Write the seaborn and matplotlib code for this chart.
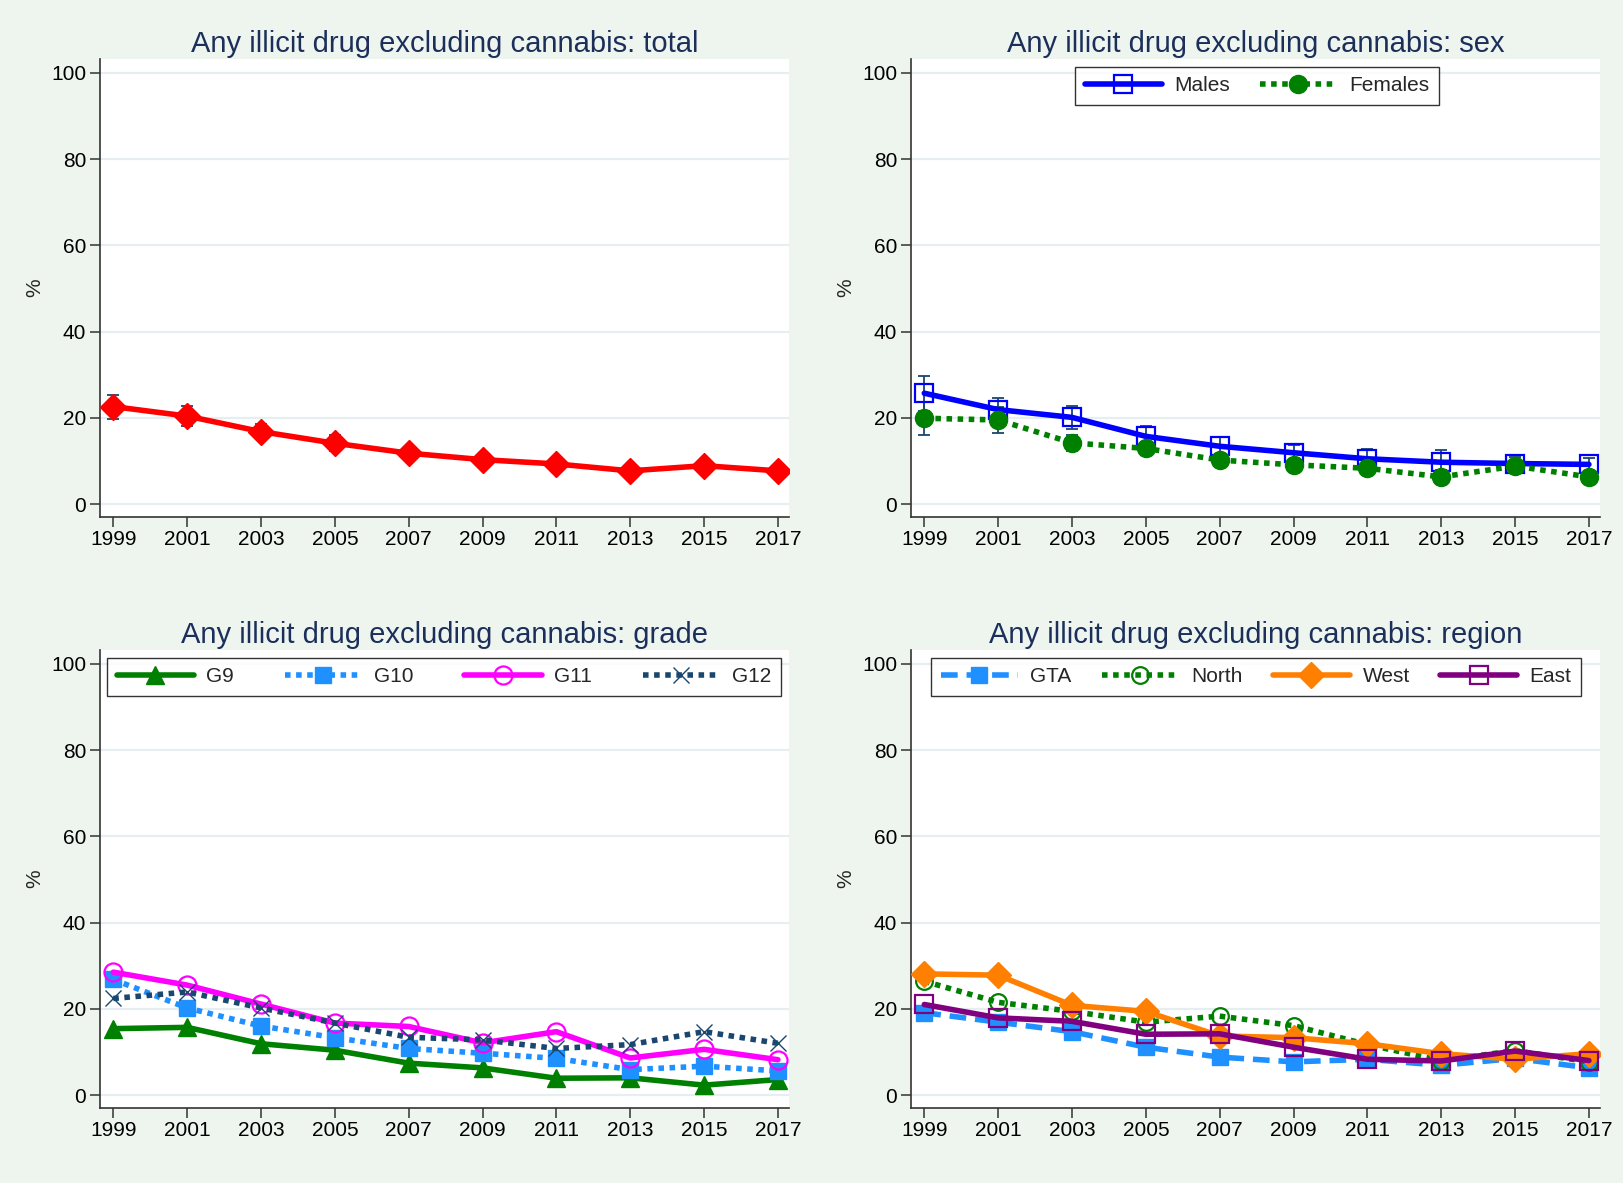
import numpy as np
import pandas as pd
import matplotlib
matplotlib.use("Agg")
import matplotlib.pyplot as plt
import seaborn as sns

# data
years = [1999, 2001, 2003, 2005, 2007, 2009, 2011, 2013, 2015, 2017]

total = [22.6, 20.4, 16.8, 14.1, 11.8, 10.3, 9.3, 7.7, 8.9, 7.7]
total_ci = [2.8, 2.3, 1.8, 1.8, 1.5, 1.2, 1.1, 1.1, 1.0, 0.9]

males = [25.7, 21.9, 20.1, 15.7, 13.4, 11.9, 10.5, 9.7, 9.4, 9.2]
males_ci = [4.1, 2.8, 2.7, 2.4, 2.1, 1.9, 2.2, 2.8, 1.5, 1.5]
females = [19.9, 19.5, 14.2, 12.9, 10.2, 9.1, 8.3, 6.3, 8.8, 6.3]
females_ci = [3.8, 3.0, 1.9, 1.5, 1.4, 1.2, 1.2, 1.5, 1.2, 1.3]

g9 = [15.4, 15.7, 11.9, 10.4, 7.4, 6.3, 3.9, 4.0, 2.3, 3.6]
g10 = [26.8, 20.2, 16.0, 13.3, 10.8, 9.7, 8.5, 5.9, 6.7, 5.6]
g11 = [28.5, 25.5, 21.1, 16.7, 15.9, 12.1, 14.7, 8.6, 10.6, 8.2]
g12 = [22.4, 23.9, 20.2, 16.7, 13.4, 12.8, 10.8, 11.7, 14.7, 12.0]

gta = [19.1, 16.9, 14.7, 11.1, 8.8, 7.7, 8.3, 6.9, 8.5, 6.3]
north = [26.4, 21.5, 19.4, 16.9, 18.3, 16.1, 11.7, 8.0, 10.3, 7.7]
west = [28.1, 27.8, 20.8, 19.4, 13.7, 13.3, 11.9, 9.6, 8.3, 9.6]
east = [21.0, 17.9, 17.1, 14.1, 14.2, 11.1, 8.3, 7.9, 10.2, 8.0]

sns.set_style("white")
plt.rcParams['font.family'] = ['Liberation Sans', 'DejaVu Sans']

bg = '#eef5ef'
title_col = '#1c2f5b'
navy = '#1a476f'
dotted = (0, (1, 1))
dashed = (0, (3, 1.6))

fig = plt.figure(figsize=(16.23, 11.83), dpi=100, facecolor=bg)

W = 689 / 1623
H = 458 / 1183
positions = {
    'tl': [100 / 1623, 1 - 517 / 1183, W, H],
    'tr': [911 / 1623, 1 - 517 / 1183, W, H],
    'bl': [100 / 1623, 1 - 1108 / 1183, W, H],
    'br': [911 / 1623, 1 - 1108 / 1183, W, H],
}


def style_ax(ax, title):
    ax.set_facecolor('white')
    ax.set_xlim(1998.64, 2017.3)
    ax.set_ylim(-3, 103.2)
    ax.set_xticks(years)
    ax.set_yticks([0, 20, 40, 60, 80, 100])
    for y in [0, 20, 40, 60, 80, 100]:
        ax.axhline(y, color='#e6eef2', lw=1.6, zorder=0)
    for s in ['top', 'right']:
        ax.spines[s].set_visible(False)
    for s in ['left', 'bottom']:
        ax.spines[s].set_color('#333333')
        ax.spines[s].set_linewidth(1.2)
    ax.tick_params(axis='both', direction='out', length=7, width=1.1,
                   color='#333333', labelsize=15, labelcolor='black',
                   left=True, bottom=True)
    ax.tick_params(axis='x', pad=2.5)
    ax.tick_params(axis='y', pad=3)
    ax.set_xlabel('')
    ax.set_ylabel('%', fontsize=15, labelpad=5)
    ax.set_title(title, fontsize=21, color=title_col, pad=5.3)


def series(ax, vals, color, ls, marker, ms, hollow=False, label=None, ci=None):
    df = pd.DataFrame({'year': years, 'val': vals})
    if ci is not None:
        ax.errorbar(years, vals, yerr=ci, fmt='none', ecolor=navy,
                    elinewidth=1.3, capsize=4, capthick=1.3, zorder=2)
    sns.lineplot(data=df, x='year', y='val', ax=ax, color=color,
                 linestyle=ls, lw=4, marker=marker, markersize=ms,
                 markerfacecolor='none' if hollow else color,
                 markeredgecolor=color, markeredgewidth=1.6 if hollow else 1,
                 dash_capstyle='butt', label=label, zorder=3, legend=False)


def legend(ax, ncol, x0, width):
    top = 1 - 7.5 / 458
    leg = ax.legend(loc='upper left', bbox_to_anchor=(x0, top - 0.01, width, 0.01),
                    mode='expand', ncol=ncol, frameon=True, fancybox=False,
                    fontsize=15, handlelength=3.7, handletextpad=0.6,
                    columnspacing=1.5, borderpad=0.46, borderaxespad=0,
                    numpoints=1)
    leg.get_frame().set_edgecolor('black')
    leg.get_frame().set_linewidth(1.0)
    leg.get_frame().set_facecolor('white')
    return leg


# panel 1: total
ax = fig.add_axes(positions['tl'])
series(ax, total, '#ff0000', '-', 'D', 13, ci=total_ci)
style_ax(ax, 'Any illicit drug excluding cannabis: total')

# panel 2: sex
ax = fig.add_axes(positions['tr'])
series(ax, males, '#0000ff', '-', 's', 13, hollow=True, label='Males', ci=males_ci)
series(ax, females, '#008000', dotted, 'o', 13, label='Females', ci=females_ci)
style_ax(ax, 'Any illicit drug excluding cannabis: sex')
legend(ax, 2, 164 / 689, 364 / 689)

# panel 3: grade
ax = fig.add_axes(positions['bl'])
series(ax, g9, '#008000', '-', '^', 13, label='G9')
series(ax, g10, '#1e90ff', dotted, 's', 12, label='G10')
series(ax, g11, '#ff00ff', '-', 'o', 13, hollow=True, label='G11')
series(ax, g12, navy, dotted, 'x', 12, label='G12')
style_ax(ax, 'Any illicit drug excluding cannabis: grade')
legend(ax, 4, 7 / 689, 674 / 689)

# panel 4: region
ax = fig.add_axes(positions['br'])
series(ax, gta, '#1e90ff', dashed, 's', 12, label='GTA')
series(ax, north, '#008000', dotted, 'o', 12, hollow=True, label='North')
series(ax, west, '#ff8000', '-', 'D', 13, label='West')
series(ax, east, '#800080', '-', 's', 13, hollow=True, label='East')
style_ax(ax, 'Any illicit drug excluding cannabis: region')
legend(ax, 4, 20 / 689, 650 / 689)

fig.savefig('out.png', dpi=100, facecolor=bg)
